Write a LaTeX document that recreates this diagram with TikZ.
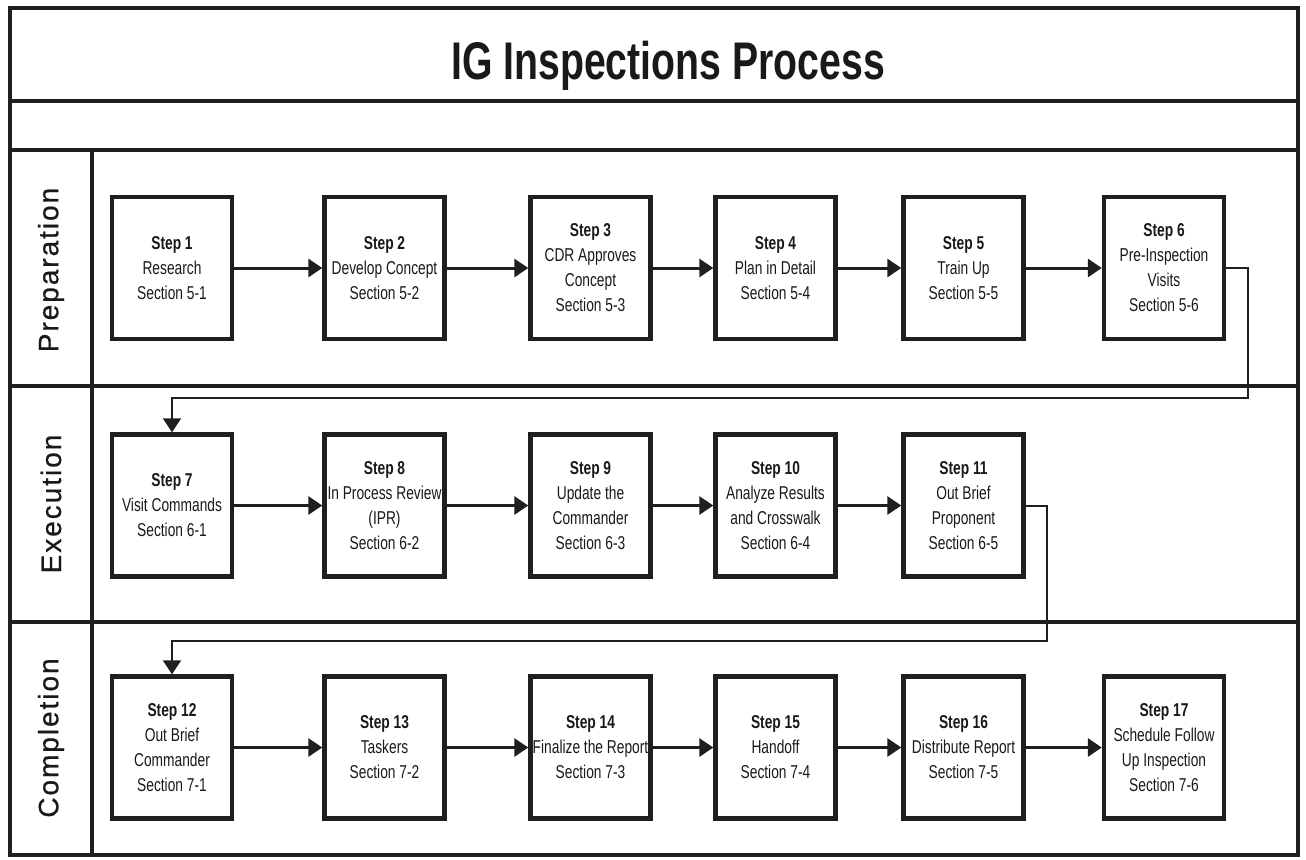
\documentclass[tikz,border=0pt]{standalone}
\usepackage{fontspec}
\setmainfont{Liberation Sans}
\newfontfamily\stepfont[FakeStretch=0.74]{Liberation Sans}
\newfontfamily\lanefont[LetterSpace=7, FakeBold=0.6]{Liberation Sans}
\usetikzlibrary{arrows.meta}

\begin{document}
\begin{tikzpicture}[x=0.5pt, y=-0.5pt,
  stepbox/.style={draw=black!88, line width=2.2pt, minimum width=60pt, minimum height=71pt, inner sep=1pt, align=center, text=black!90, font=\stepfont\fontsize{9.3}{12.5}\selectfont},
  lanelabel/.style={rotate=90, text=black!90, font=\lanefont\fontsize{14}{14}\selectfont},
  frame/.style={draw=black!88, line width=2pt},
  arr/.style={draw=black!88, line width=1.5pt, -{Triangle[length=7pt, width=9pt]}},
  back/.style={draw=black!88, line width=1pt, -{Triangle[length=7pt, width=9pt]}}]
\useasboundingbox (0,0) rectangle (1306,859);
\draw[frame] (10,8) rectangle (1298,855);
\draw[frame, line width=2.4pt] (10,101) -- (1298,101);
\draw[frame, line width=2.4pt] (10,150) -- (1298,150);
\draw[frame, line width=2.4pt] (10,386) -- (1298,386);
\draw[frame, line width=2.4pt] (10,622) -- (1298,622);
\draw[frame] (92,150) -- (92,855);
\node[anchor=base, text=black!90, font=\stepfont\bfseries\fontsize{26.5}{26.5}\selectfont] (title) at (668,79) {IG Inspections Process};
\node[lanelabel] (prep) at (51,270) {Preparation};
\node[lanelabel] (exec) at (51,504) {Execution};
\node[lanelabel] (comp) at (51,738) {Completion};
\node[stepbox] (s1) at (172,268) {\textbf{Step 1}\\Research\\Section 5-1};
\node[stepbox] (s2) at (384.5,268) {\textbf{Step 2}\\Develop Concept\\Section 5-2};
\node[stepbox] (s3) at (590.5,268) {\textbf{Step 3}\\CDR Approves\\Concept\\Section 5-3};
\node[stepbox] (s4) at (775.5,268) {\textbf{Step 4}\\Plan in Detail\\Section 5-4};
\node[stepbox] (s5) at (963.5,268) {\textbf{Step 5}\\Train Up\\Section 5-5};
\node[stepbox] (s6) at (1164,268) {\textbf{Step 6}\\Pre-Inspection\\Visits\\Section 5-6};
\node[stepbox] (s7) at (172,505.5) {\textbf{Step 7}\\Visit Commands\\Section 6-1};
\node[stepbox] (s8) at (384.5,505.5) {\textbf{Step 8}\\In Process Review\\(IPR)\\Section 6-2};
\node[stepbox] (s9) at (590.5,505.5) {\textbf{Step 9}\\Update the\\Commander\\Section 6-3};
\node[stepbox] (s10) at (775.5,505.5) {\textbf{Step 10}\\Analyze Results\\and Crosswalk\\Section 6-4};
\node[stepbox] (s11) at (963.5,505.5) {\textbf{Step 11}\\Out Brief\\Proponent\\Section 6-5};
\node[stepbox] (s12) at (172,747.5) {\textbf{Step 12}\\Out Brief\\Commander\\Section 7-1};
\node[stepbox] (s13) at (384.5,747.5) {\textbf{Step 13}\\Taskers\\Section 7-2};
\node[stepbox] (s14) at (590.5,747.5) {\textbf{Step 14}\\Finalize the Report\\Section 7-3};
\node[stepbox] (s15) at (775.5,747.5) {\textbf{Step 15}\\Handoff\\Section 7-4};
\node[stepbox] (s16) at (963.5,747.5) {\textbf{Step 16}\\Distribute Report\\Section 7-5};
\node[stepbox] (s17) at (1164,747.5) {\textbf{Step 17}\\Schedule Follow\\Up Inspection\\Section 7-6};
\draw[arr] (s1) -- (s2);
\draw[arr] (s2) -- (s3);
\draw[arr] (s3) -- (s4);
\draw[arr] (s4) -- (s5);
\draw[arr] (s5) -- (s6);
\draw[arr] (s7) -- (s8);
\draw[arr] (s8) -- (s9);
\draw[arr] (s9) -- (s10);
\draw[arr] (s10) -- (s11);
\draw[arr] (s12) -- (s13);
\draw[arr] (s13) -- (s14);
\draw[arr] (s14) -- (s15);
\draw[arr] (s15) -- (s16);
\draw[arr] (s16) -- (s17);
\coordinate (turn1) at (1248,398);
\coordinate (turn2) at (1047,641);
\draw[back] (s6.east) -| (turn1) -| (s7.north);
\draw[back] (s11.east) -| (turn2) -| (s12.north);
\end{tikzpicture}
\end{document}
